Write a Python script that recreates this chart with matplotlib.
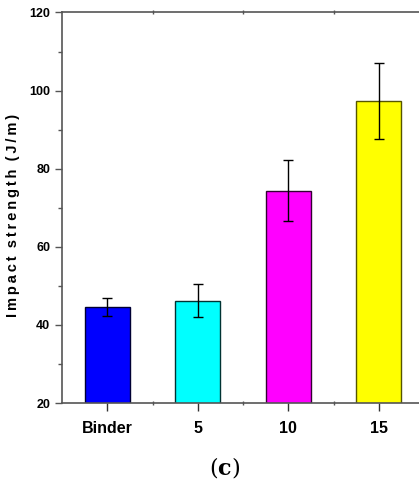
import matplotlib
matplotlib.use("Agg")
import matplotlib.pyplot as plt
from matplotlib.ticker import MultipleLocator, FixedLocator

categories = ["Binder", "5", "10", "15"]
values = [44.6, 46.2, 74.4, 97.4]
errors = [2.4, 4.2, 7.8, 9.7]
colors = ["#0000ff", "#00ffff", "#ff00ff", "#ffff00"]
edgecolors = ["#000033", "#003333", "#330033", "#555500"]
ylabel_words = ["Impact", "strength", "(J/m)"]

plt.rcParams["mathtext.fontset"] = "dejavuserif"

fig = plt.figure(figsize=(4.19, 4.86), dpi=100)
ax = fig.add_axes([62/419, 83/486, 362/419, 390.5/486])

x = list(range(len(categories)))
ax.bar(x, values, width=0.5, color=colors, edgecolor=edgecolors, linewidth=1.0, zorder=2)
ax.errorbar(x, values, yerr=errors, fmt="none", ecolor="black", elinewidth=1.0,
            capsize=3.5, capthick=1.0, zorder=3)

ax.set_xlim(-0.5, 3.5)
ax.set_ylim(20, 120)
ax.yaxis.set_major_locator(MultipleLocator(20))
ax.yaxis.set_minor_locator(MultipleLocator(10))
ax.set_xticks(x)
ax.set_xticklabels(categories)
ax.xaxis.set_minor_locator(FixedLocator([0.5, 1.5, 2.5]))

for s in ["left", "bottom", "top"]:
    ax.spines[s].set_color("#555555")
    ax.spines[s].set_linewidth(1.2)
ax.spines["right"].set_visible(False)

ax.tick_params(axis="y", which="major", direction="out", length=5, width=1, color="#555555",
               labelsize=9)
ax.tick_params(axis="y", which="minor", direction="out", length=3, width=1, color="#555555")
ax.tick_params(axis="x", which="major", direction="out", length=6, width=1, color="#333333",
               labelsize=11.5, pad=7)
ax.tick_params(axis="x", which="minor", direction="inout", length=3, width=1, color="#555555")
ax.tick_params(axis="x", which="minor", top=True, bottom=True)

for lab in ax.get_yticklabels() + ax.get_xticklabels():
    lab.set_fontfamily("Liberation Sans")
    lab.set_fontweight("bold")

ylabel = "  ".join("\u2009".join(w) for w in ylabel_words)
ax.set_ylabel(ylabel, fontsize=10.5, fontweight="bold",
              fontfamily=["Liberation Sans", "DejaVu Sans"])
ax.yaxis.set_label_coords(-(62 - 20) / 362, (403 - 215) / 390.5)

fig.text(225/419, 1 - 468/486, r"($\mathbf{c}$)", ha="center", va="center", fontsize=16,
         fontfamily="DejaVu Serif")

fig.savefig("out.png", dpi=100)
